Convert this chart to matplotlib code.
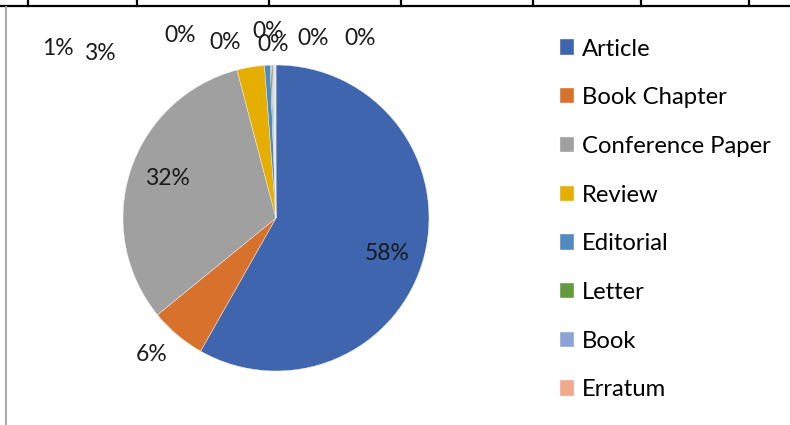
import matplotlib.pyplot as plt
from matplotlib.lines import Line2D

plt.rcParams['font.family'] = ['Lato', 'DejaVu Sans']

# document types and their share of publications (%)
doc_types = ['Article', 'Book Chapter', 'Conference Paper', 'Review', 'Editorial',
             'Letter', 'Book', 'Erratum', 'Note', 'Short Survey', 'Conference Review']
shares = [58.2, 5.9, 31.8, 2.9, 0.6, 0.15, 0.15, 0.1, 0.1, 0.05, 0.05]
colors = ['#3E65AE', '#D7712B', '#A0A0A0', '#E6AE00', '#5289C1', '#639A3F',
          '#8EA2D3', '#F2A88A', '#C8C8C8', '#F7CF5F', '#95BADF']
legend_count = 8

# label positions, in units of the pie radius
label_pos = [(0.725, -0.235), (-0.81, -0.895), (-0.712, 0.261), (-1.15, 1.072),
             (-1.425, 1.11), (-0.627, 1.196), (-0.333, 1.144), (-0.052, 1.216),
             (-0.02, 1.131), (0.242, 1.17), (0.549, 1.176)]

W, H = 790, 425
fig = plt.figure(figsize=(W / 100, H / 100), dpi=100)

# table borders around the chart
for x in [28, 137, 269, 401, 533, 641, 749]:
    fig.add_artist(Line2D([x / W, x / W], [1, 1 - 6 / H], color='black', lw=1.6))
fig.add_artist(Line2D([0, 1], [1 - 6 / H, 1 - 6 / H], color='black', lw=1.6))
fig.add_artist(Line2D([6 / W, 6 / W], [0, 1 - 7 / H], color='#A6A6A6', lw=1.4))

cx, cy, r = 276, 218, 153
ax = fig.add_axes([(cx - r) / W, (H - cy - r) / H, 2 * r / W, 2 * r / H])
wedges, _, autotexts = ax.pie(shares, colors=colors, startangle=90, counterclock=False,
                              autopct='%.0f%%', radius=1,
                              wedgeprops=dict(linewidth=0.3, edgecolor='#f4f4f4'),
                              textprops=dict(fontsize=16.5, color='#1a1a1a'))
for t, (x, y) in zip(autotexts, label_pos):
    t.set_position((x, y))
    t.set_ha('center')
    t.set_va('center')
ax.set_xlim(-1, 1)
ax.set_ylim(-1, 1)
ax.axis('off')

fig.legend(wedges[:legend_count], doc_types[:legend_count], loc='upper left',
           bbox_to_anchor=(560 / W, 1 - 38.5 / H), frameon=False, fontsize=17.2,
           handlelength=0.6, handleheight=0.6, handletextpad=0.33,
           labelspacing=1.16, borderpad=0, borderaxespad=0)

fig.savefig('out.png', dpi=100)
